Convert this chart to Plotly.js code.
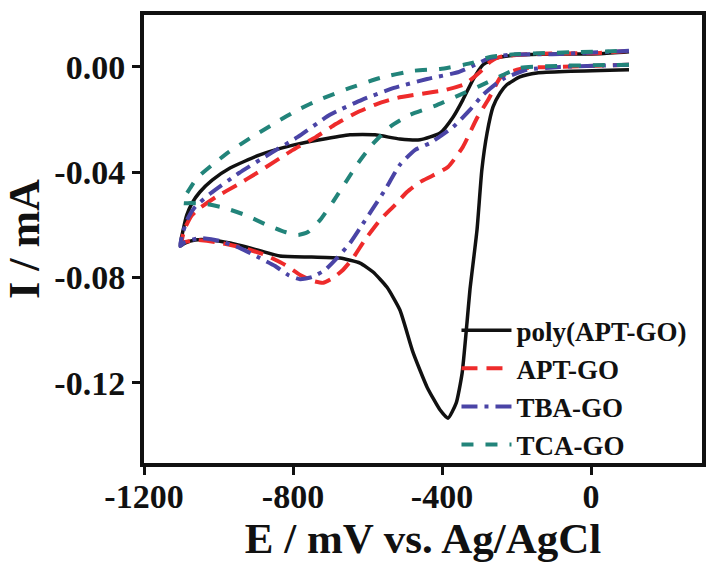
<!DOCTYPE html>
<html>
<head>
<meta charset="utf-8">
<script src="https://cdn.plot.ly/plotly-3.0.1.min.js"></script>
<style>html,body{margin:0;padding:0;background:#fff;}#chart{width:707px;height:565px;}</style>
</head>
<body>
<div id="chart"></div>
<script>
// Potential (mV) and current (mA), loop order: +100 -> -1100 -> +100
var seriesNames = ["poly(APT-GO)", "APT-GO", "TBA-GO", "TCA-GO"];

var polyE = [102, -145, -191, -226, -244, -263, -279, -293, -306, -325, -333, -346, -362, -384, -405, -440, -478, -513, -548, -585, -620, -674, -750, -835, -889, -969, -1023, -1063, -1090, -1103,
             -1095, -1085, -1071, -1050, -1017, -969, -889, -808, -728, -647, -580, -513, -459, -405, -370, -344, -317, -290, -252, -191, -137, 24, 102];
var polyI = [-0.0011, -0.0023, -0.0038, -0.0068, -0.0099, -0.0152, -0.0251, -0.0391, -0.0619, -0.0847, -0.0973, -0.1163, -0.1277, -0.1334, -0.1303, -0.1216, -0.1083, -0.0923, -0.0836, -0.0779, -0.0745, -0.0726, -0.0722, -0.0718, -0.0698, -0.0669, -0.0657, -0.0657, -0.0669, -0.0680,
             -0.0620, -0.0562, -0.0517, -0.0475, -0.0430, -0.0384, -0.0334, -0.0300, -0.0277, -0.0258, -0.0258, -0.0274, -0.0277, -0.0251, -0.0190, -0.0125, -0.0049, 0.0008, 0.0034, 0.0046, 0.0048, 0.0050, 0.0057];

var aptE = [102, -83, -177, -217, -244, -276, -306, -344, -384, -427, -459, -494, -526, -566, -607, -639, -666, -693, -719, -746, -781, -821, -875, -942, -1009, -1063, -1098,
            -1090, -1071, -1050, -1007, -950, -897, -800, -738, -685, -631, -575, -521, -459, -389, -338, -298, -271, -244, -164, 24, 102];
var aptI = [0.0008, 0.0000, -0.0004, -0.0019, -0.0042, -0.0125, -0.0194, -0.0304, -0.0380, -0.0414, -0.0437, -0.0475, -0.0524, -0.0581, -0.0657, -0.0726, -0.0771, -0.0802, -0.0820, -0.0813, -0.0790, -0.0752, -0.0714, -0.0684, -0.0665, -0.0657, -0.0665,
            -0.0612, -0.0562, -0.0536, -0.0494, -0.0448, -0.0403, -0.0315, -0.0266, -0.0217, -0.0175, -0.0141, -0.0118, -0.0103, -0.0087, -0.0065, -0.0019, 0.0019, 0.0038, 0.0049, 0.0053, 0.0061];

var tbaE = [102, -83, -172, -231, -252, -290, -325, -370, -432, -472, -513, -553, -588, -620, -647, -682, -714, -749, -781, -813, -848, -889, -942, -996, -1050, -1090, -1103,
            -1095, -1082, -1063, -1020, -945, -859, -787, -701, -615, -529, -440, -354, -311, -271, -217, -83, 102];
var tbaI = [0.0008, 0.0000, -0.0011, -0.0042, -0.0061, -0.0106, -0.0163, -0.0228, -0.0289, -0.0315, -0.0372, -0.0467, -0.0543, -0.0612, -0.0669, -0.0726, -0.0771, -0.0798, -0.0806, -0.0790, -0.0756, -0.0726, -0.0688, -0.0661, -0.0650, -0.0665, -0.0680,
            -0.0627, -0.0574, -0.0532, -0.0479, -0.0403, -0.0327, -0.0266, -0.0182, -0.0125, -0.0080, -0.0046, -0.0019, 0.0008, 0.0034, 0.0046, 0.0049, 0.0061];

var tcaE = [102, -83, -191, -231, -298, -352, -419, -486, -540, -588, -625, -660, -693, -727, -760, -786, -821, -870, -929, -983, -1036, -1076, -1095,
            -1095, -1076, -1058, -1017, -972, -910, -848, -787, -725, -647, -566, -478, -405, -319, -271, -191, 102];
var tcaI = [0.0008, 0.0004, -0.0004, -0.0027, -0.0072, -0.0106, -0.0148, -0.0182, -0.0228, -0.0296, -0.0365, -0.0441, -0.0513, -0.0581, -0.0627, -0.0638, -0.0627, -0.0600, -0.0562, -0.0536, -0.0520, -0.0517, -0.0517,
            -0.0505, -0.0460, -0.0422, -0.0372, -0.0323, -0.0266, -0.0213, -0.0163, -0.0122, -0.0080, -0.0042, -0.0015, -0.0008, 0.0015, 0.0038, 0.0049, 0.0061];

var xTickVals = [-1200, -800, -400, 0];
var yTickVals = [0.00, -0.04, -0.08, -0.12];

var serif = "Liberation Serif, Times New Roman, serif";

function tr(x, y, name, color, dash, width) {
  return {x: x, y: y, name: name, type: "scatter", mode: "lines",
          line: {color: color, dash: dash, width: width, shape: "spline", smoothing: 0.5}};
}

var data = [
  tr(polyE, polyI, seriesNames[0], "#111111", "solid", 3.5),
  tr(aptE, aptI, seriesNames[1], "#ee2b2b", "16px,9px", 4),
  tr(tbaE, tbaI, seriesNames[2], "#4a44a6", "16px,7px,4px,7px", 4),
  tr(tcaE, tcaI, seriesNames[3], "#22847a", "12px,12px", 4)
];

var layout = {
  width: 707, height: 565,
  margin: {l: 144, r: 5, t: 15, b: 102},
  paper_bgcolor: "#fff", plot_bgcolor: "#fff",
  showlegend: true,
  legend: {x: 0.56, y: 0.35, xanchor: "left", yanchor: "top", bgcolor: "rgba(0,0,0,0)",
           font: {family: serif, size: 27, color: "#111", weight: "bold"},
           itemwidth: 50},
  xaxis: {range: [-1200, 298], tickvals: xTickVals, ticktext: xTickVals.map(String),
          showgrid: false, zeroline: false, showline: true, mirror: true, linecolor: "#111", linewidth: 4,
          ticks: "outside", ticklen: 8, tickwidth: 3, tickcolor: "#111", ticklabelstandoff: -8,
          tickfont: {family: serif, size: 34, color: "#111", weight: "bold"},
          title: {text: "E / mV vs. Ag/AgCl", font: {family: serif, size: 43, color: "#111", weight: "bold"}, standoff: 2}},
  yaxis: {range: [-0.1504, 0.0197], tickvals: yTickVals, ticktext: yTickVals.map(function(v){return v.toFixed(2);}),
          showgrid: false, zeroline: false, showline: true, mirror: true, linecolor: "#111", linewidth: 4,
          ticks: "outside", ticklen: 8, tickwidth: 3, tickcolor: "#111",
          tickfont: {family: serif, size: 34, color: "#111", weight: "bold"},
          title: {text: "I / mA", font: {family: serif, size: 44, color: "#111", weight: "bold"}, standoff: 4}}
};

Plotly.newPlot("chart", data, layout, {displayModeBar: false, staticPlot: true});
</script>
</body>
</html>
